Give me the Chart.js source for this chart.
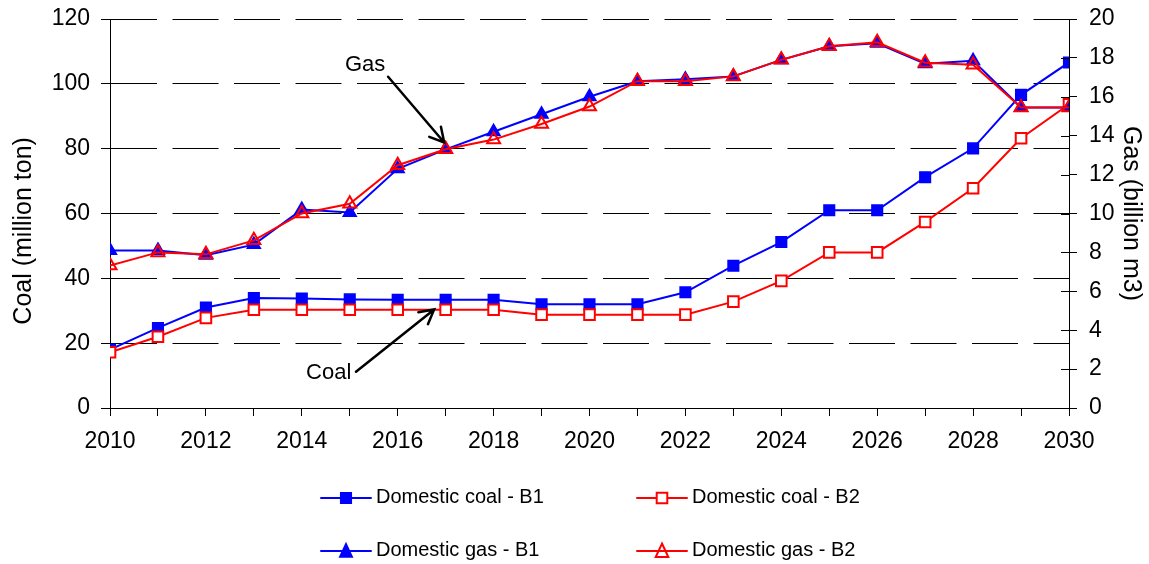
<!DOCTYPE html>
<html>
<head>
<meta charset="utf-8">
<title>Domestic coal and gas</title>
<script src="https://cdn.jsdelivr.net/npm/chart.js@4.4.1/dist/chart.umd.min.js"></script>
<style>
  html, body { margin: 0; padding: 0; background: #fff; }
  #wrap { width: 1149px; height: 564px; }
</style>
</head>
<body>
<div id="wrap"><canvas id="chart" width="1149" height="564"></canvas></div>
<script>
// ===== Data =====
const years = [2010, 2011, 2012, 2013, 2014, 2015, 2016, 2017, 2018, 2019, 2020,
               2021, 2022, 2023, 2024, 2025, 2026, 2027, 2028, 2029, 2030];
const xTickLabels = [2010, 2012, 2014, 2016, 2018, 2020, 2022, 2024, 2026, 2028, 2030];

// million ton (left axis)
const coalB1 = [18, 24.7, 31, 33.9, 33.8, 33.5, 33.4, 33.4, 33.4, 32, 32,
                32, 35.7, 43.9, 51.2, 61, 61, 71.2, 80.1, 96.6, 106.6];
const coalB2 = [17.2, 22, 27.8, 30.3, 30.3, 30.3, 30.3, 30.3, 30.3, 28.8, 28.8,
                28.8, 28.8, 32.8, 39.2, 48, 48, 57.4, 67.8, 83.2, 93.7];

// billion m3 (right axis)
const gasB1 = [8.1, 8.1, 7.85, 8.4, 10.2, 10.05, 12.3, 13.3, 14.2, 15.1, 16.0,
               16.8, 16.9, 17.05, 17.9, 18.6, 18.75, 17.7, 17.85, 15.45, 15.45];
const gasB2 = [7.33, 8.0, 7.9, 8.62, 10.0, 10.5, 12.48, 13.3, 13.8, 14.6, 15.5,
               16.8, 16.8, 17.05, 17.9, 18.6, 18.8, 17.75, 17.65, 15.45, 15.45];

const seriesLabels = ['Domestic coal - B1', 'Domestic coal - B2', 'Domestic gas - B1', 'Domestic gas - B2'];

// ===== Annotations (data units: year, coal) =====
const notes = [
  { text: 'Gas',  at: [2015.32, 105.8], tail: [2015.8, 102.2],  tip: [2016.97, 81.9] },
  { text: 'Coal', at: [2014.56, 10.7],  tail: [2015.13, 11.2],  tip: [2016.76, 30.4] },
];

const fontFamily = "'Liberation Sans', Arial, Helvetica, sans-serif";
Chart.defaults.font.family = fontFamily;
Chart.defaults.color = '#000';

const BLUE = '#0000ff';
const RED  = '#ff0000';

// ===== Plugin: inner ticks, arrows, legend =====
const extras = {
  id: 'extras',
  afterDraw(chart) {
    const ctx = chart.ctx;
    const xs = chart.scales.x, ys = chart.scales.y, y1 = chart.scales.y1;
    ctx.save();

    // inner half of the gas axis ticks
    ctx.strokeStyle = '#000';
    ctx.lineWidth = 1;
    y1.ticks.forEach(t => {
      const py = Math.round(y1.getPixelForValue(t.value)) + 0.5;
      ctx.beginPath();
      ctx.moveTo(y1.left - 8, py);
      ctx.lineTo(y1.left, py);
      ctx.stroke();
    });

    // arrows + labels
    notes.forEach(n => {
      const tx = xs.getPixelForValue(n.tail[0]), ty = ys.getPixelForValue(n.tail[1]);
      const hx = xs.getPixelForValue(n.tip[0]),  hy = ys.getPixelForValue(n.tip[1]);
      ctx.strokeStyle = '#000';
      ctx.lineWidth = 2.5;
      ctx.lineCap = 'round';
      ctx.beginPath();
      ctx.moveTo(tx, ty);
      ctx.lineTo(hx, hy);
      const ang = Math.atan2(hy - ty, hx - tx);
      const len = 16, spread = 0.5;
      ctx.moveTo(hx - len * Math.cos(ang - spread), hy - len * Math.sin(ang - spread));
      ctx.lineTo(hx, hy);
      ctx.lineTo(hx - len * Math.cos(ang + spread), hy - len * Math.sin(ang + spread));
      ctx.stroke();

      ctx.fillStyle = '#000';
      ctx.font = '22px ' + fontFamily;
      ctx.textAlign = 'center';
      ctx.textBaseline = 'middle';
      ctx.fillText(n.text, xs.getPixelForValue(n.at[0]), ys.getPixelForValue(n.at[1]));
    });

    // legend, 2 x 2
    const slots = [[321, 498], [637, 498], [321, 551], [637, 551]];
    chart.data.datasets.forEach((ds, i) => {
      const [sx, sy] = slots[i];
      const cx = sx + 25;
      ctx.strokeStyle = ds.borderColor;
      ctx.lineWidth = 2;
      ctx.beginPath();
      ctx.moveTo(sx, sy);
      ctx.lineTo(sx + 50, sy);
      ctx.stroke();

      ctx.fillStyle = ds.pointBackgroundColor;
      ctx.strokeStyle = ds.pointBorderColor;
      ctx.lineWidth = ds.pointBorderWidth;
      ctx.beginPath();
      if (ds.pointStyle === 'rect') {
        ctx.rect(cx - 5.3, sy - 5.3, 10.6, 10.6);
      } else {
        ctx.moveTo(cx, sy - 7.5);
        ctx.lineTo(cx + 6.3, sy + 6);
        ctx.lineTo(cx - 6.3, sy + 6);
        ctx.closePath();
      }
      ctx.fill();
      ctx.stroke();

      ctx.fillStyle = '#000';
      ctx.font = '20px ' + fontFamily;
      ctx.textAlign = 'left';
      ctx.textBaseline = 'middle';
      ctx.fillText(ds.label, sx + 55, sy - 1);
    });

    ctx.restore();
  }
};

// fixed box sizes so the plot area lands where the original has it
const fixWidth = w => s => { s.width = w; s.paddingTop = 0; s.paddingBottom = 0; };

// ===== Chart =====
const ctx = document.getElementById('chart').getContext('2d');
new Chart(ctx, {
  type: 'line',
  data: {
    labels: years,
    datasets: [
      {
        label: seriesLabels[0], data: coalB1, yAxisID: 'y', order: 3,
        borderColor: BLUE, borderWidth: 2,
        pointStyle: 'rect', pointRadius: 7.5, pointBackgroundColor: BLUE,
        pointBorderColor: BLUE, pointBorderWidth: 1.5,
      },
      {
        label: seriesLabels[1], data: coalB2, yAxisID: 'y', order: 2,
        borderColor: RED, borderWidth: 2,
        pointStyle: 'rect', pointRadius: 7.5, pointBackgroundColor: '#ffffff',
        pointBorderColor: RED, pointBorderWidth: 2,
      },
      {
        label: seriesLabels[2], data: gasB1, yAxisID: 'y1', order: 1,
        borderColor: BLUE, borderWidth: 2,
        pointStyle: 'triangle', pointRadius: 7.5, pointBackgroundColor: BLUE,
        pointBorderColor: BLUE, pointBorderWidth: 1.5,
      },
      {
        label: seriesLabels[3], data: gasB2, yAxisID: 'y1', order: 0,
        borderColor: RED, borderWidth: 2,
        pointStyle: 'triangle', pointRadius: 7.5, pointBackgroundColor: 'rgba(0,0,0,0)',
        pointBorderColor: RED, pointBorderWidth: 2,
      },
    ],
  },
  options: {
    responsive: false,
    animation: false,
    layout: { padding: { top: 19, bottom: 116, left: 0, right: 0 } },
    plugins: {
      legend: { display: false },
      tooltip: { enabled: false },
    },
    elements: { line: { tension: 0 } },
    scales: {
      x: {
        type: 'linear',
        min: 2010,
        max: 2030,
        afterFit: s => { s.height = 40; s.paddingLeft = 0; s.paddingRight = 0; },
        grid: { drawOnChartArea: false, tickLength: 8, color: '#000', tickColor: '#000' },
        border: { color: '#000', width: 1 },
        ticks: {
          stepSize: 1,
          autoSkip: false,
          maxRotation: 0,
          padding: 12,
          font: { size: 23 },
          callback: v => xTickLabels.includes(v) ? String(v) : '',
        },
      },
      y: {
        position: 'left',
        min: 0,
        max: 120,
        afterFit: fixWidth(110),
        grid: { color: '#000', tickColor: '#000', tickLength: 9, lineWidth: 1 },
        border: { color: '#000', width: 1, dash: [46, 15.5] },
        ticks: { stepSize: 20, padding: 11, font: { size: 23 } },
        title: {
          display: true,
          text: 'Coal (million ton)     ',
          font: { size: 25 },
          padding: { top: 9, bottom: 0 },
        },
      },
      y1: {
        position: 'right',
        min: 0,
        max: 20,
        afterFit: fixWidth(80),
        grid: { drawOnChartArea: false, tickLength: 8, color: '#000', tickColor: '#000' },
        border: { color: '#000', width: 1 },
        ticks: { stepSize: 2, padding: 12, font: { size: 23 } },
        title: {
          display: true,
          text: 'Gas (billion m3)',
          font: { size: 25 },
          padding: { top: 3, bottom: 0 },
        },
      },
    },
  },
  plugins: [extras],
});
</script>
</body>
</html>
